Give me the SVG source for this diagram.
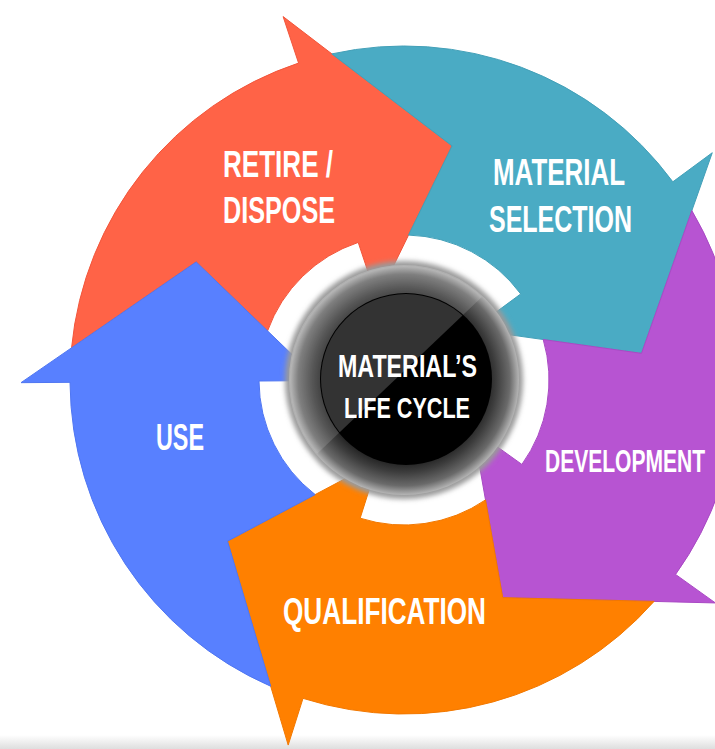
<svg xmlns="http://www.w3.org/2000/svg" width="715" height="749" viewBox="0 0 715 749">
<style>
.lbl{font-family:"Liberation Sans Narrow","Liberation Sans",Arial,sans-serif;font-weight:bold;fill:#ffffff;}
.arrow{stroke-width:1;stroke-linejoin:miter;}
</style>
<defs>
<radialGradient id="ringGrad" cx="0.5" cy="0.5" r="0.5">
<stop offset="0.70" stop-color="#1c1c1c"/>
<stop offset="0.80" stop-color="#3c3c3c"/>
<stop offset="0.92" stop-color="#6a6a6a"/>
<stop offset="1" stop-color="#b5b5b5"/>
</radialGradient>
<linearGradient id="bottomShade" x1="0" y1="0" x2="0" y2="1">
<stop offset="0" stop-color="#ffffff"/>
<stop offset="1" stop-color="#dedede"/>
</linearGradient>
<clipPath id="discClip"><circle cx="406" cy="379" r="85"/></clipPath>
<clipPath id="ballClip"><circle cx="404" cy="380" r="114"/></clipPath>
<filter id="soft" x="-20%" y="-20%" width="140%" height="140%"><feGaussianBlur stdDeviation="2.5"/></filter>
</defs>
<rect x="0" y="0" width="715" height="749" fill="#ffffff"/>
<rect x="0" y="735" width="715" height="14" fill="url(#bottomShade)"/>
<g id="connectors"></g>
<g id="node-retire">
<path class="arrow" fill="#FF6347" stroke="#F2553A" d="M 71.55 347.87 A 334 334 0 0 1 298.57 63.07 L 283.11 16.58 L 452.05 145.88 L 377.17 299.35 L 358.23 242.41 A 145 145 0 0 0 267.57 330.90 L 196.19 261.95 Z"/>
<text class="lbl" x="223" y="177" font-size="36" textLength="110" lengthAdjust="spacingAndGlyphs">RETIRE /</text>
<text class="lbl" x="223" y="223" font-size="36" textLength="112" lengthAdjust="spacingAndGlyphs">DISPOSE</text>
</g>
<g id="node-material-selection">
<path class="arrow" fill="#4AABC4" stroke="#43A0B8" d="M 331.82 53.89 A 334 334 0 0 1 672.83 181.80 L 712.27 152.72 L 641.51 353.36 L 472.42 329.56 L 520.71 293.95 A 145 145 0 0 0 408.53 235.07 L 452.05 145.88 Z"/>
<text class="lbl" x="493" y="185" font-size="36" textLength="132" lengthAdjust="spacingAndGlyphs">MATERIAL</text>
<text class="lbl" x="489" y="232" font-size="36" textLength="143" lengthAdjust="spacingAndGlyphs">SELECTION</text>
</g>
<g id="node-development">
<path class="arrow" fill="#B754D2" stroke="#A949C4" d="M 691.85 210.58 A 334 334 0 0 1 675.58 574.43 L 715.42 602.95 L 502.73 597.65 L 473.11 429.48 L 521.90 464.41 A 145 145 0 0 0 543.23 339.52 L 641.51 353.36 Z"/>
<text class="lbl" x="545" y="472" font-size="32" textLength="160" lengthAdjust="spacingAndGlyphs">DEVELOPMENT</text>
</g>
<g id="node-qualification">
<path class="arrow" fill="#FF8000" stroke="#F27800" d="M 654.09 601.39 A 334 334 0 0 1 303.01 698.37 L 288.19 745.07 L 227.51 541.16 L 378.30 461.02 L 360.16 518.21 A 145 145 0 0 0 485.52 499.91 L 502.73 597.65 Z"/>
<text class="lbl" x="283" y="624" font-size="37" textLength="203" lengthAdjust="spacingAndGlyphs">QUALIFICATION</text>
</g>
<g id="node-use">
<path class="arrow" fill="#5880FF" stroke="#4F76F2" d="M 270.70 686.25 A 334 334 0 0 1 70.01 382.33 L 21.01 382.67 L 196.19 261.95 L 319.0 380.59 L 259.0 381.01 A 145 145 0 0 0 315.17 494.60 L 227.51 541.16 Z"/>
<text class="lbl" x="156" y="450" font-size="37" textLength="48" lengthAdjust="spacingAndGlyphs">USE</text>
</g>
<g id="node-center">
<circle cx="404" cy="380" r="119" fill="#9a9a9a" filter="url(#soft)"/>
<circle cx="404" cy="380" r="115" fill="url(#ringGrad)"/>
<polygon points="217,549 586,198 586,100 200,100 200,549" fill="#ffffff" fill-opacity="0.14" clip-path="url(#ballClip)"/>
<circle cx="406" cy="379" r="86" fill="#000000"/>
<polygon points="217,549 586,198 586,100 200,100 200,549" fill="#333333" clip-path="url(#discClip)"/>
<text class="lbl" x="338" y="377" font-size="32" textLength="139" lengthAdjust="spacingAndGlyphs">MATERIAL’S</text>
<text class="lbl" x="344" y="418" font-size="30" textLength="126" lengthAdjust="spacingAndGlyphs">LIFE CYCLE</text>
</g>
</svg>
